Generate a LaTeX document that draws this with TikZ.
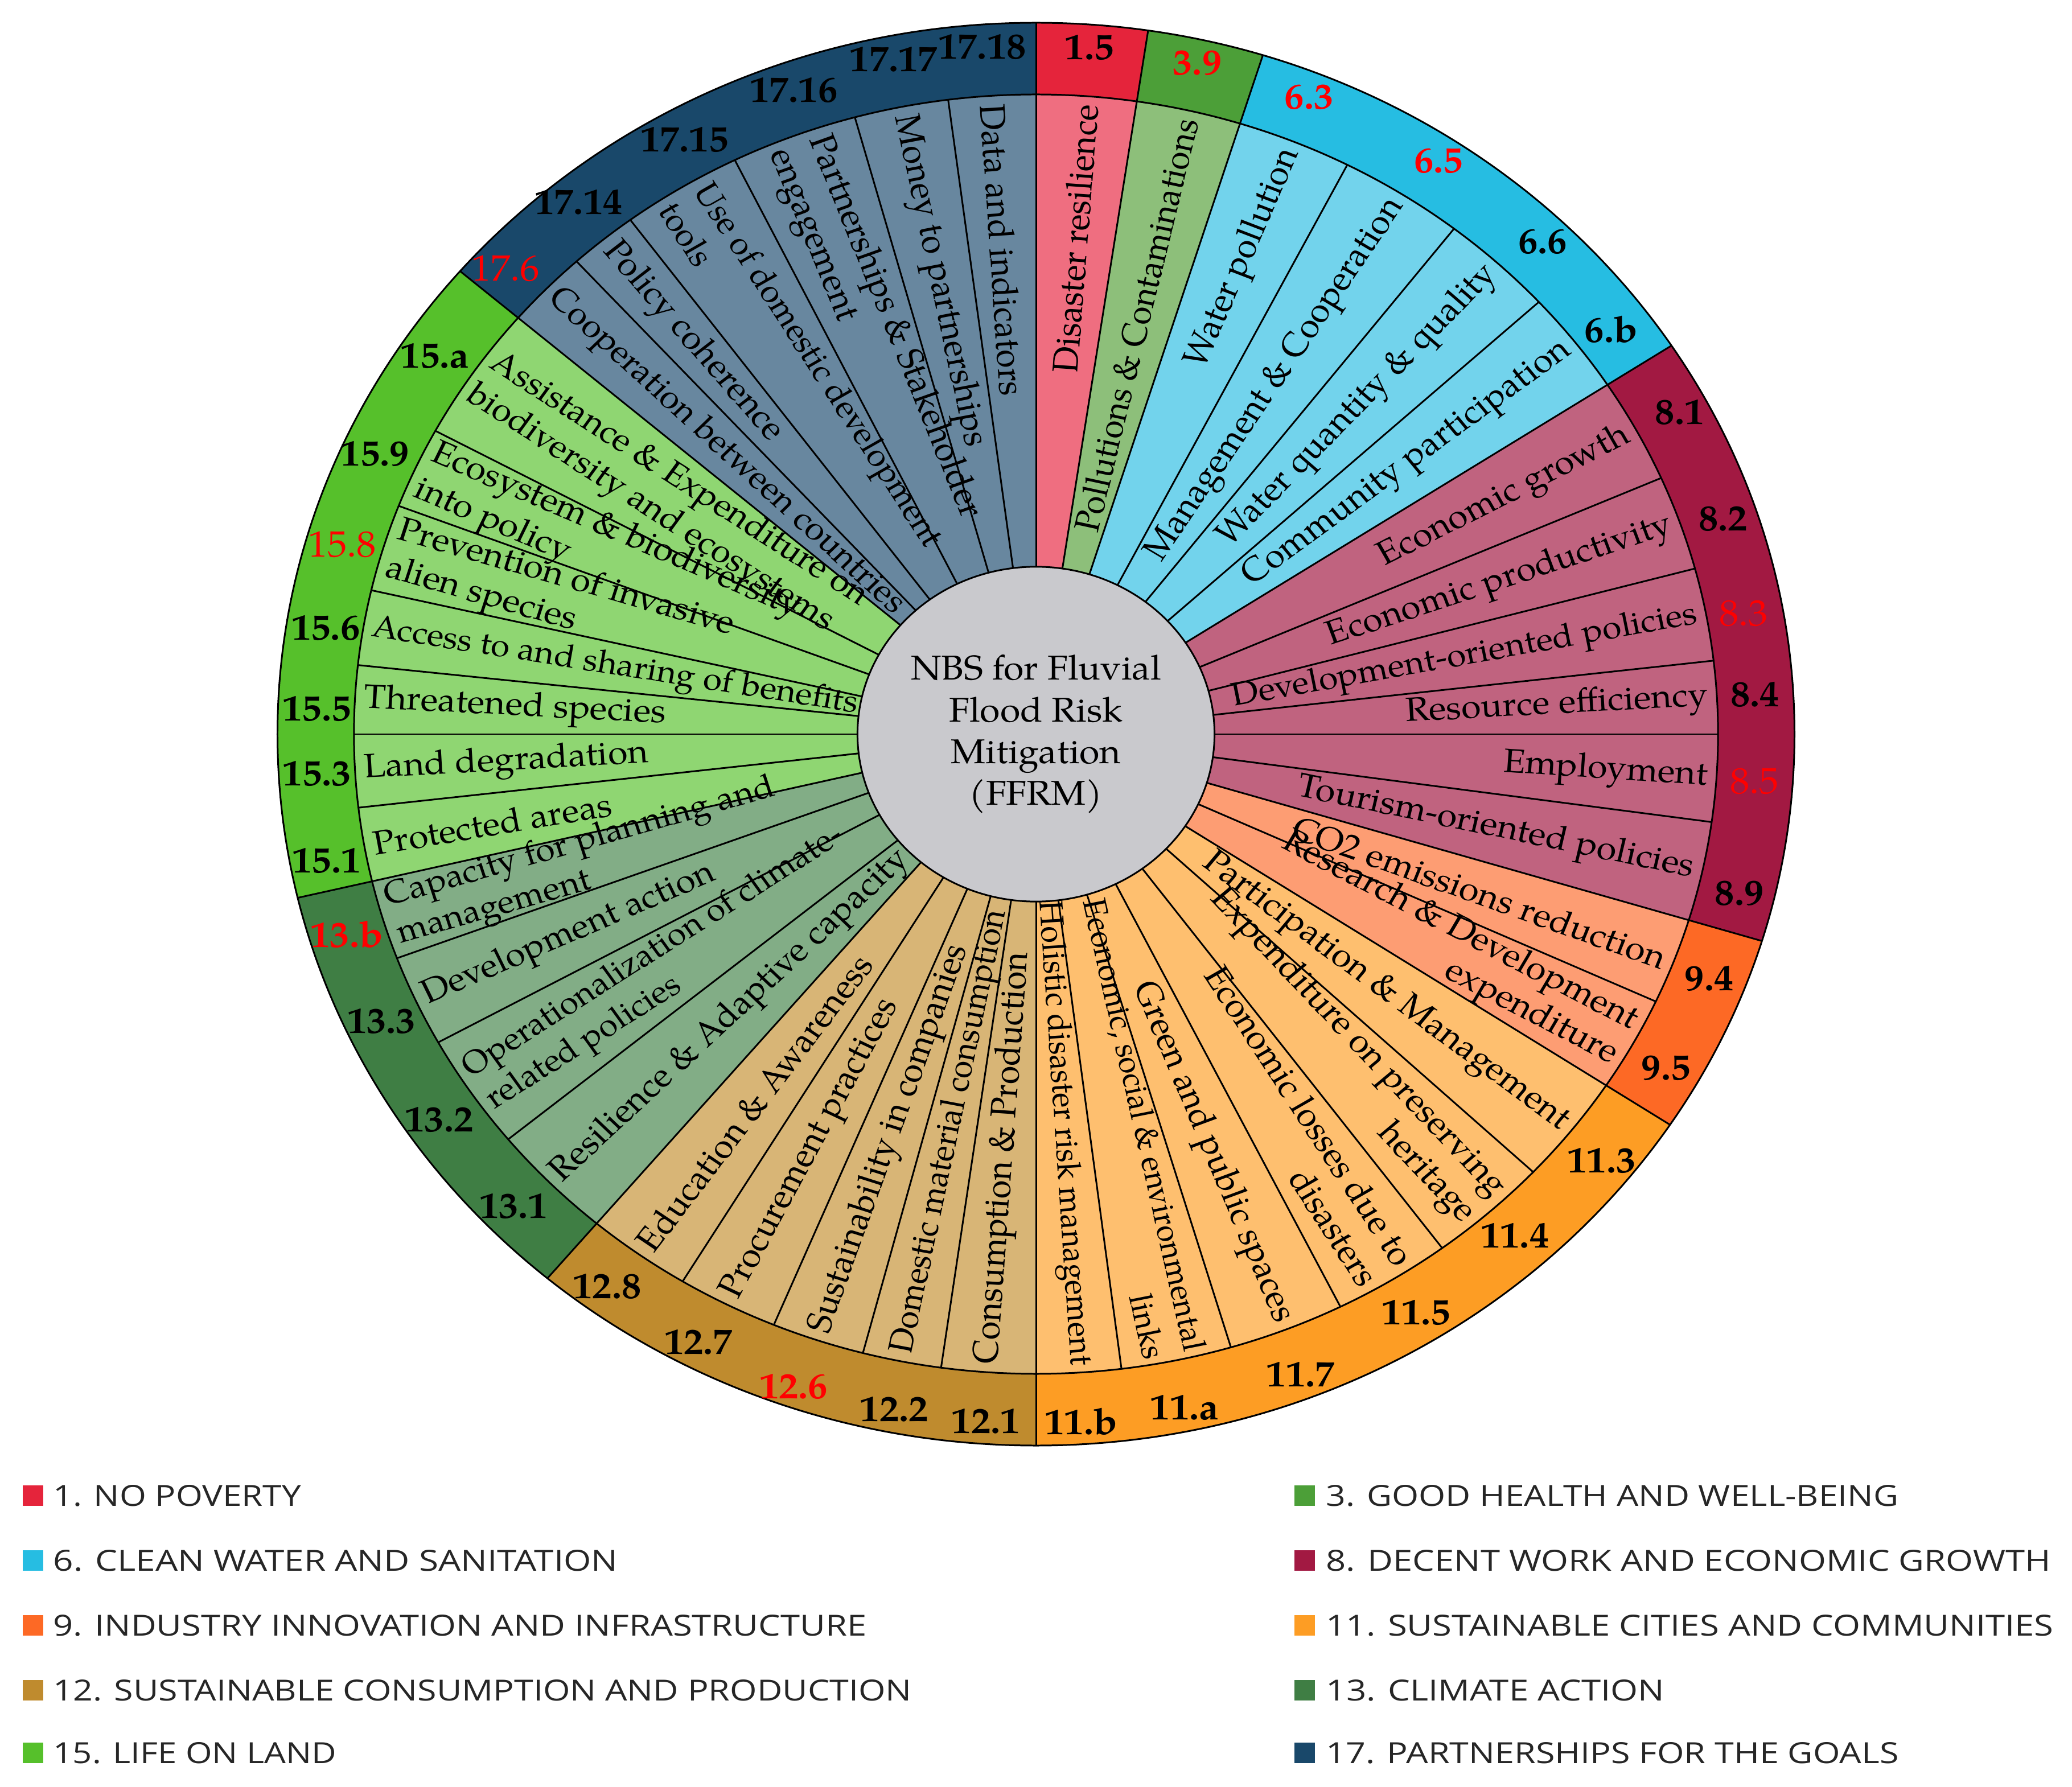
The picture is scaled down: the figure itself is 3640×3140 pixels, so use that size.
\documentclass[tikz,border=0pt]{standalone}
\usepackage{fontspec}
\usepackage{graphicx}
\IfFontExistsTF{TeX Gyre Pagella}{\setmainfont{TeX Gyre Pagella}}{\setmainfont{Liberation Serif}}
\newfontfamily\legendfont{Open Sans}

\definecolor{gAo}{HTML}{E5243B}\definecolor{gAi}{HTML}{EF6E80}
\definecolor{gCo}{HTML}{4C9F38}\definecolor{gCi}{HTML}{8DBF7A}
\definecolor{gFo}{HTML}{26BDE2}\definecolor{gFi}{HTML}{72D3EC}
\definecolor{gHo}{HTML}{A21942}\definecolor{gHi}{HTML}{C0637F}
\definecolor{gIo}{HTML}{FD6925}\definecolor{gIi}{HTML}{FD9D73}
\definecolor{gKo}{HTML}{FD9D24}\definecolor{gKi}{HTML}{FEBF6F}
\definecolor{gLo}{HTML}{BF8B2E}\definecolor{gLi}{HTML}{D8B576}
\definecolor{gMo}{HTML}{3F7E44}\definecolor{gMi}{HTML}{82AD86}
\definecolor{gOo}{HTML}{56C02B}\definecolor{gOi}{HTML}{8FD672}
\definecolor{gQo}{HTML}{19486A}\definecolor{gQi}{HTML}{68879F}
\definecolor{hubgray}{HTML}{C9C9CD}
\definecolor{leggray}{HTML}{262626}
\definecolor{labred}{HTML}{FF0000}

\tikzset{
  bord/.style={draw=black, line width=0.85pt},
  fs/.style={font=\fontsize{#1}{19.5}\selectfont},
  segtext/.style={fs=16.8, inner sep=0pt, text=black, transform shape},
  segR/.style={anchor=east, align=right, rotate=#1},
  segL/.style={anchor=west, align=left, rotate=#1+180},
  ringlab/.style={font=\fontsize{18.3}{20}\selectfont\bfseries, inner sep=0pt, text=black, transform shape},
  redlab/.style={font=\fontsize{18.3}{20}\selectfont, text=labred, inner sep=0pt, transform shape},
  redbold/.style={ringlab, text=labred},
  hub/.style={circle, fill=hubgray, draw=black, line width=0.85pt, minimum size=5.88cm,
    inner sep=0pt, align=center, font=\fontsize{17.2}{20.8}\selectfont, transform shape},
  legsq/.style={minimum size=0.36cm, inner sep=0pt},
  legtext/.style={anchor=west, inner sep=0pt, text=leggray, font=\legendfont},
}

\newcommand\ringseg[3]{\fill[#3] (#1:1124) arc[start angle=#1, end angle=#2, radius=1124]
  -- (#2:1250) arc[start angle=#2, end angle=#1, radius=1250] -- cycle;}

\newcommand\segdata{%
\sdseg{1}{90}{81.5}{gAi}{segR}{Disaster resilience}{1.5}{ringlab}{}%
\sdseg{2}{81.5}{72.6}{gCi}{segR}{Pollutions \& Contaminations}{3.9}{redbold}{fs=16.5}%
\sdseg{3}{72.6}{62.85}{gFi}{segR}{Water pollution}{6.3}{redbold}{}%
\sdseg{4}{62.85}{52.2}{gFi}{segR}{Management \& Cooperation}{6.5}{redbold, xshift=0.26cm, yshift=-0.14cm}{}%
\sdseg{5}{52.2}{42.5}{gFi}{segR}{Water quantity \& quality}{6.6}{ringlab, xshift=0.31cm, yshift=-0.25cm}{}%
\sdseg{6}{42.5}{33.1}{gFi}{segR}{Community participation}{6.b}{ringlab, xshift=0.1cm, yshift=-0.3cm}{}%
\sdseg{7}{33.1}{23.6}{gHi}{segR}{Economic growth}{8.1}{ringlab, xshift=0.16cm, yshift=-0.09cm}{}%
\sdseg{8}{23.6}{15.0}{gHi}{segR}{Economic productivity}{8.2}{ringlab, xshift=0.12cm, yshift=-0.22cm}{}%
\sdseg{9}{15.0}{6.6}{gHi}{segR}{Development-oriented policies}{8.3}{redlab, yshift=-0.15cm}{fs=16.3}%
\sdseg{10}{6.6}{0}{gHi}{segR}{Resource efficiency}{8.4}{ringlab}{}%
\sdseg{11}{0}{-7.9}{gHi}{segR}{Employment}{8.5}{redlab}{}%
\sdseg{12}{-7.9}{-16.9}{gHi}{segR}{Tourism-oriented policies}{8.9}{ringlab, yshift=-0.2cm}{}%
\sdseg{13}{-16.9}{-24.7}{gIi}{segR}{CO2 emissions reduction}{9.4}{ringlab}{}%
\sdseg{14}{-24.7}{-33.3}{gIi}{segR}{Research \& Development\\expenditure}{9.5}{ringlab}{}%
\sdseg{15}{-33.3}{-43.2}{gKi}{segR}{Participation \& Management}{11.3}{ringlab}{}%
\sdseg{16}{-43.2}{-53.45}{gKi}{segR}{Expenditure on preserving\\heritage}{11.4}{ringlab, yshift=0.22cm}{}%
\sdseg{17}{-53.45}{-63.5}{gKi}{segR}{Economic losses due to\\disasters}{11.5}{ringlab, xshift=0.06cm, yshift=0.15cm}{}%
\sdseg{18}{-63.5}{-73.4}{gKi}{segR}{Green and public spaces}{11.7}{ringlab}{}%
\sdseg{19}{-73.4}{-82.8}{gKi}{segR}{Economic, social \& environmental\\links}{11.a}{ringlab}{fs=15.3, inner xsep=-0.05cm}%
\sdseg{20}{-82.8}{-90}{gKi}{segR}{Holistic disaster risk management}{11.b}{ringlab}{fs=15.5, inner xsep=-0.02cm}%
\sdseg{21}{-90}{-98}{gLi}{segL}{Consumption \& Production}{12.1}{ringlab}{}%
\sdseg{22}{-98}{-104.7}{gLi}{segL}{Domestic material consumption}{12.2}{ringlab}{fs=16}%
\sdseg{23}{-104.7}{-112.6}{gLi}{segL}{Sustainability in companies}{12.6}{redbold, xshift=-0.2cm}{}%
\sdseg{24}{-112.6}{-121.2}{gLi}{segL}{Procurement practices}{12.7}{ringlab, xshift=-0.19cm, yshift=0.11cm}{}%
\sdseg{25}{-121.2}{-130.1}{gLi}{segL}{Education \& Awareness}{12.8}{ringlab, xshift=-0.15cm, yshift=0.13cm}{}%
\sdseg{26}{-130.1}{-140.7}{gMi}{segL}{Resilience \& Adaptive capacity}{13.1}{ringlab, xshift=-0.16cm, yshift=0.2cm}{}%
\sdseg{27}{-140.7}{-151.2}{gMi}{segL}{Operationalization of climate-\\related policies}{13.2}{ringlab}{fs=16}%
\sdseg{28}{-151.2}{-159.5}{gMi}{segL}{Development action}{13.3}{ringlab}{}%
\sdseg{29}{-159.5}{-166.7}{gMi}{segL}{Capacity for planning and\\management}{13.b}{redbold}{fs=16.4}%
\sdseg{30}{-166.7}{-173.4}{gOi}{segL}{Protected areas}{15.1}{ringlab, yshift=-0.13cm}{}%
\sdseg{31}{-173.4}{-180}{gOi}{segL}{Land degradation}{15.3}{ringlab}{}%
\sdseg{32}{-180}{-186.2}{gOi}{segL}{Threatened species}{15.5}{ringlab, yshift=-0.21cm}{}%
\sdseg{33}{-186.2}{-193}{gOi}{segL}{Access to and sharing of benefits}{15.6}{ringlab, yshift=-0.15cm}{fs=16}%
\sdseg{34}{-193}{-200.9}{gOi}{segL}{Prevention of invasive\\alien species}{15.8}{redlab, xshift=-0.08cm, yshift=-0.2cm}{}%
\sdseg{35}{-200.9}{-208.3}{gOi}{segL}{Ecosystem \& biodiversity\\into policy}{15.9}{ringlab, xshift=-0.1cm, yshift=-0.11cm}{}%
\sdseg{36}{-208.3}{-220.6}{gOi}{segL}{Assistance \& Expenditure on\\biodiversity and ecosystems}{15.a}{ringlab, xshift=-0.12cm, yshift=-0.2cm}{fs=16.5}%
\sdseg{37}{-220.6}{-227.65}{gQi}{segL}{Cooperation between countries}{17.6}{redlab, xshift=-0.22cm, yshift=-0.24cm}{fs=16.4}%
\sdseg{38}{-227.65}{-233.5}{gQi}{segL}{Policy coherence}{17.14}{ringlab}{}%
\sdseg{39}{-233.5}{-243.8}{gQi}{segL}{Use of domestic development\\tools}{17.15}{ringlab, xshift=0.38cm, yshift=0.11cm}{fs=16}%
\sdseg{40}{-243.8}{-254.6}{gQi}{segL}{Partnerships \& Stakeholder\\engagement}{17.16}{ringlab, xshift=0.22cm}{}%
\sdseg{41}{-254.6}{-262.6}{gQi}{segL}{Money to partnerships}{17.17}{ringlab}{}%
\sdseg{42}{-262.6}{-270}{gQi}{segL}{Data and indicators}{17.18}{ringlab, xshift=-0.12cm}{}%
}

\begin{document}
\begin{tikzpicture}[x=0.01cm, y=0.01cm]
\useasboundingbox (-1820,-1850) rectangle (1820,1290);

\begin{scope}[xscale=1.066]
  % inner wedges
  \def\sdseg#1#2#3#4#5#6#7#8#9{\fill[#4] (0,0) -- (#2:1124) arc[start angle=#2, end angle=#3, radius=1124] -- cycle;}
  \segdata
  % outer goal ring
  \ringseg{90}{81.5}{gAo}
  \ringseg{81.5}{72.6}{gCo}
  \ringseg{72.6}{33.1}{gFo}
  \ringseg{33.1}{-16.9}{gHo}
  \ringseg{-16.9}{-33.3}{gIo}
  \ringseg{-33.3}{-90}{gKo}
  \ringseg{-90}{-130.1}{gLo}
  \ringseg{-130.1}{-166.7}{gMo}
  \ringseg{-166.7}{-220.6}{gOo}
  \ringseg{-220.6}{-270}{gQo}
  % radial lines
  \def\sdseg#1#2#3#4#5#6#7#8#9{\draw[bord] (0,0) -- (#2:1124);}
  \segdata
  \foreach \ang in {90,81.5,72.6,33.1,-16.9,-33.3,-90,-130.1,-166.7,-220.6}
    \draw[bord] (\ang:1124) -- (\ang:1250);
  \draw[bord] (0,0) circle[radius=1124];
  \draw[bord] (0,0) circle[radius=1250];
  % texts and labels
  \def\sdseg#1#2#3#4#5#6#7#8#9{\pgfmathsetmacro\mang{(#2+#3)/2}%
    \node[segtext, #5=\mang, #9] (t#1) at (\mang:1110) {#6};%
    \node[#8] (l#1) at ({1187*cos(\mang)},{1210*sin(\mang)}) {#7};}
  \segdata
  % hub
  \node[hub] (hub) at (0,0) {NBS for Fluvial\\Flood Risk\\Mitigation\\(FFRM)};
\end{scope}

% legend, left column
\node[legsq, fill=gAo] (q1) at (-1762,-1338) {};
\node[legtext] (k1) at (-1727,-1338) {\resizebox{4.35cm}{0.37cm}{1. NO POVERTY}};
\node[legsq, fill=gFo] (q6) at (-1762,-1452) {};
\node[legtext] (k6) at (-1727,-1452) {\resizebox{9.91cm}{0.37cm}{6. CLEAN WATER AND SANITATION}};
\node[legsq, fill=gIo] (q9) at (-1762,-1566) {};
\node[legtext] (k9) at (-1727,-1566) {\resizebox{14.28cm}{0.37cm}{9. INDUSTRY INNOVATION AND INFRASTRUCTURE}};
\node[legsq, fill=gLo] (q12) at (-1762,-1680) {};
\node[legtext] (k12) at (-1727,-1680) {\resizebox{15.07cm}{0.37cm}{12. SUSTAINABLE CONSUMPTION AND PRODUCTION}};
\node[legsq, fill=gOo] (q15) at (-1762,-1790) {};
\node[legtext] (k15) at (-1727,-1790) {\resizebox{4.97cm}{0.37cm}{15. LIFE ON LAND}};
% legend, right column
\node[legsq, fill=gCo] (q3) at (472,-1338) {};
\node[legtext] (k3) at (509,-1338) {\resizebox{10.05cm}{0.37cm}{3. GOOD HEALTH AND WELL-BEING}};
\node[legsq, fill=gHo] (q8) at (472,-1452) {};
\node[legtext] (k8) at (509,-1452) {\resizebox{12.72cm}{0.37cm}{8. DECENT WORK AND ECONOMIC GROWTH}};
\node[legsq, fill=gKo] (q11) at (472,-1566) {};
\node[legtext] (k11) at (509,-1566) {\resizebox{12.77cm}{0.37cm}{11. SUSTAINABLE CITIES AND COMMUNITIES}};
\node[legsq, fill=gMo] (q13) at (472,-1680) {};
\node[legtext] (k13) at (509,-1680) {\resizebox{5.94cm}{0.37cm}{13. CLIMATE ACTION}};
\node[legsq, fill=gQo] (q17) at (472,-1790) {};
\node[legtext] (k17) at (509,-1790) {\resizebox{10.05cm}{0.37cm}{17. PARTNERSHIPS FOR THE GOALS}};
\end{tikzpicture}
\end{document}
